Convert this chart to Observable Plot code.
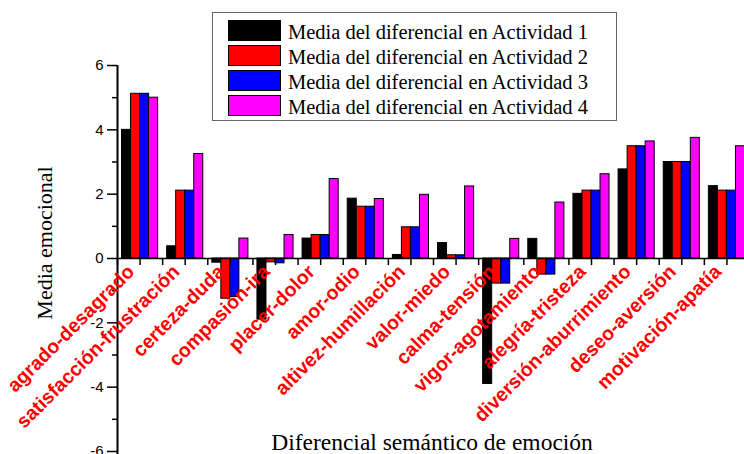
<!DOCTYPE html>
<html><head><meta charset="utf-8">
<script src="https://cdn.jsdelivr.net/npm/d3@7"></script>
<script src="https://cdn.jsdelivr.net/npm/@observablehq/plot@0.6"></script>
<style>
body{margin:0;background:#fff;}
#wrap{position:relative;width:744px;height:454px;overflow:hidden;background:#fff;}
#legend{position:absolute;left:212px;top:12px;width:405px;height:109px;border:1.5px solid #666;background:#fff;box-sizing:border-box;font-family:"Liberation Serif","Times New Roman",serif;font-size:20.5px;color:#000;}
.sw{position:absolute;left:15px;width:53px;height:21px;box-sizing:border-box;border:1px solid #000;}
.lt{position:absolute;left:75px;line-height:20px;white-space:nowrap;}
#ylab{position:absolute;left:45px;top:243px;transform:translate(-50%,-50%) rotate(-90deg);font-family:"Liberation Serif","Times New Roman",serif;font-size:22px;white-space:nowrap;line-height:22px;}
#xlab{position:absolute;left:232px;width:400px;text-align:center;top:431px;font-family:"Liberation Serif","Times New Roman",serif;font-size:23.5px;line-height:23.5px;white-space:nowrap;}
</style></head><body><div id="wrap"></div>
<script>
const categories = ["agrado-desagrado","satisfacción-frustración","certeza-duda","compasión-ira","placer-dolor","amor-odio","altivez-humillación","valor-miedo","calma-tensión","vigor-agotamiento","alegría-tristeza","diversión-aburrimiento","deseo-aversión","motivación-apatía"];
const series = ["Media del diferencial en Actividad 1","Media del diferencial en Actividad 2","Media del diferencial en Actividad 3","Media del diferencial en Actividad 4"];
const colors = ["#000000","#ff0000","#0000ff","#ff00ff"];
const act1 = [4.0, 0.38, -0.13, -1.9, 0.62, 1.86, 0.11, 0.48, -3.9, 0.61, 2.01, 2.77, 3.0, 2.25];
const act2 = [5.12, 2.11, -1.25, -0.12, 0.73, 1.61, 0.97, 0.1, -0.78, -0.5, 2.11, 3.49, 3.0, 2.11];
const act3 = [5.12, 2.11, -1.2, -0.15, 0.73, 1.61, 0.97, 0.1, -0.78, -0.5, 2.11, 3.49, 3.0, 2.11];
const act4 = [5.0, 3.25, 0.62, 0.73, 2.47, 1.85, 1.98, 2.24, 0.61, 1.74, 2.62, 3.64, 3.75, 3.49];
const yMajor = [-6,-4,-2,0,2,4,6];
const yMinor = [-5,-3,-1,1,3,5];
const xLabel = "Diferencial semántico de emoción";
const yLabel = "Media emocional";

const allSeries = [act1, act2, act3, act4];
const rows = [];
categories.forEach((c, i) => allSeries.forEach((vals, s) => rows.push({cat: c, i, s, serie: series[s], value: vals[i]})));
const xTicks = d3.range(0, categories.length * 2 + 1).map(k => k / 2);

const chart = Plot.plot({
  width: 744, height: 454,
  marginLeft: 117, marginRight: 0, marginTop: 65, marginBottom: 3,
  x: {domain: [0, categories.length], range: [117, 749], axis: null},
  y: {domain: [-6, 6], axis: null},
  color: {domain: series, range: colors},
  style: {background: "white", overflow: "visible"},
  marks: [
    Plot.rectY(rows, {x1: d => d.i + (d.s + 0.5) / 5, x2: d => d.i + (d.s + 1.5) / 5, y1: 0, y2: "value", fill: "serie", stroke: "black", strokeWidth: 1}),
    Plot.ruleY([0], {stroke: "black", strokeWidth: 1.5}),
    Plot.ruleX(xTicks, {x: d => d, y1: 0, y2: -0.22, stroke: "black", strokeWidth: 1.5}),
    Plot.ruleX([0], {y1: -6.3, y2: 6, stroke: "black", strokeWidth: 2}),
    Plot.axisY({ticks: yMajor, label: null, tickSize: 10, tickPadding: 4, tickFormat: d => String(d), fontSize: 15, fontFamily: "Liberation Sans, Arial, sans-serif", strokeWidth: 1.5, fill: "black"}),
    Plot.axisY({ticks: yMinor, label: null, tickSize: 5, tickFormat: () => "", strokeWidth: 1.5}),
    Plot.text(categories, {x: (d, i) => i + 0.5, y: 0, text: d => d, rotate: -45, textAnchor: "end", fill: "#ff0000", fontWeight: "bold", fontSize: 19.5, fontFamily: "Liberation Sans, Arial, sans-serif", dx: -9, dy: 10})
  ]
});
const wrap = document.getElementById("wrap");
wrap.appendChild(chart);
const legend = document.createElement("div");
legend.id = "legend";
series.forEach((s, k) => {
  const sw = document.createElement("div");
  sw.className = "sw"; sw.style.top = (7 + 25 * k) + "px"; sw.style.background = colors[k];
  legend.appendChild(sw);
  const t = document.createElement("div");
  t.className = "lt"; t.style.top = (9 + 25 * k) + "px"; t.textContent = s;
  legend.appendChild(t);
});
wrap.appendChild(legend);
const yl = document.createElement("div"); yl.id = "ylab"; yl.textContent = yLabel; wrap.appendChild(yl);
const xl = document.createElement("div"); xl.id = "xlab"; xl.textContent = xLabel; wrap.appendChild(xl);
</script></body></html>
